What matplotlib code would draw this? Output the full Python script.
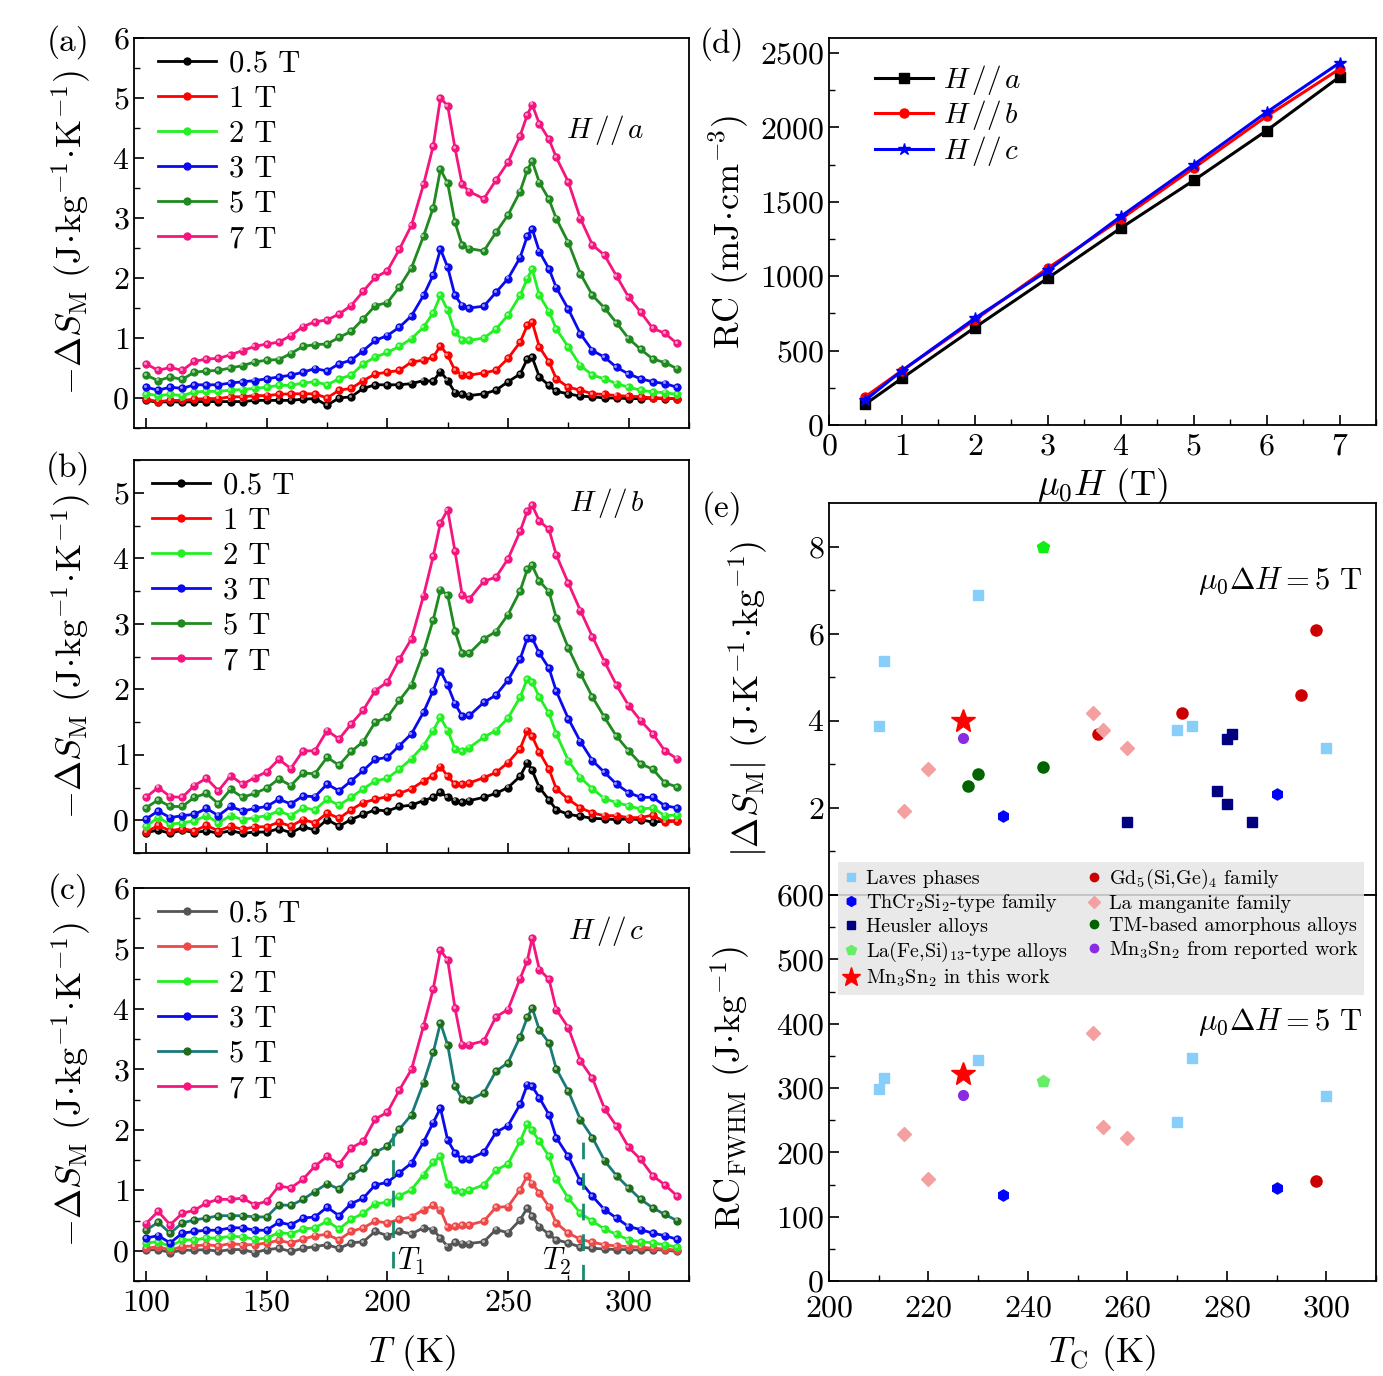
import matplotlib.pyplot as plt
import matplotlib.transforms as mtransforms
from matplotlib.ticker import MultipleLocator, FixedLocator
from matplotlib.lines import Line2D

plt.rcParams['font.family'] = ['cmr10', 'DejaVu Serif']
plt.rcParams['mathtext.fontset'] = 'cm'
plt.rcParams['axes.unicode_minus'] = False
plt.rcParams['axes.formatter.use_mathtext'] = True

# temperature grid (K) shared by panels (a)-(c)
temps = [100, 105, 110, 115, 120, 125, 130, 135, 140, 145, 150, 155, 160, 165, 170,
         175, 180, 185, 190, 195, 200, 205, 210, 215, 219, 222, 225, 228, 231, 234,
         240, 245, 250, 255, 258, 260, 263, 267, 270, 275, 280, 285, 290, 295, 300,
         305, 310, 315, 320]

fields = ['0.5 T', '1 T', '2 T', '3 T', '5 T', '7 T']

# (a) H // a
a_05 = [-0.04, -0.07, -0.06, -0.07, -0.06, -0.06, -0.06, -0.06, -0.06, -0.04, -0.04, -0.04, -0.04, -0.02, -0.01,
        -0.12, 0.00, 0.02, 0.16, 0.22, 0.22, 0.22, 0.24, 0.29, 0.28, 0.44, 0.29, 0.09, 0.06, 0.04,
        0.07, 0.13, 0.27, 0.40, 0.65, 0.68, 0.35, 0.21, 0.11, 0.07, 0.03, 0.02, 0.00, 0.00, -0.01,
        -0.01, 0.00, -0.01, -0.01]
a_1 = [-0.02, -0.06, -0.04, -0.04, -0.02, -0.01, -0.01, 0.02, 0.02, 0.04, 0.04, 0.06, 0.07, 0.07, 0.07,
       0.00, 0.13, 0.16, 0.29, 0.40, 0.43, 0.46, 0.60, 0.63, 0.68, 0.87, 0.71, 0.46, 0.39, 0.38,
       0.42, 0.46, 0.66, 0.93, 1.21, 1.27, 0.85, 0.60, 0.32, 0.18, 0.13, 0.07, 0.06, 0.04, 0.03,
       0.02, 0.00, 0.00, -0.01]
a_2 = [0.07, 0.04, 0.06, 0.04, 0.10, 0.11, 0.11, 0.13, 0.14, 0.16, 0.18, 0.21, 0.21, 0.25, 0.27,
       0.22, 0.32, 0.38, 0.57, 0.68, 0.76, 0.86, 0.99, 1.18, 1.42, 1.71, 1.46, 1.10, 0.97, 0.96,
       1.00, 1.15, 1.38, 1.71, 1.99, 2.15, 1.71, 1.44, 1.15, 0.85, 0.54, 0.38, 0.32, 0.24, 0.18,
       0.13, 0.10, 0.09, 0.06]
a_3 = [0.18, 0.13, 0.18, 0.16, 0.22, 0.22, 0.22, 0.25, 0.27, 0.29, 0.32, 0.35, 0.38, 0.43, 0.49,
       0.45, 0.57, 0.63, 0.79, 0.96, 1.04, 1.18, 1.37, 1.71, 2.05, 2.48, 2.18, 1.71, 1.54, 1.50,
       1.53, 1.76, 1.99, 2.34, 2.70, 2.82, 2.44, 2.15, 1.84, 1.48, 1.07, 0.79, 0.68, 0.51, 0.40,
       0.32, 0.27, 0.24, 0.18]
a_5 = [0.38, 0.29, 0.35, 0.31, 0.43, 0.45, 0.46, 0.50, 0.54, 0.60, 0.63, 0.64, 0.74, 0.86, 0.89,
       0.90, 1.01, 1.11, 1.32, 1.54, 1.59, 1.85, 2.17, 2.70, 3.17, 3.81, 3.58, 2.93, 2.55, 2.49,
       2.45, 2.76, 3.05, 3.44, 3.80, 3.95, 3.59, 3.31, 2.99, 2.59, 2.07, 1.71, 1.50, 1.25, 0.99,
       0.81, 0.65, 0.59, 0.49]
a_7 = [0.57, 0.46, 0.51, 0.46, 0.61, 0.65, 0.66, 0.72, 0.79, 0.86, 0.90, 0.93, 1.04, 1.19, 1.27,
       1.30, 1.40, 1.54, 1.78, 2.01, 2.12, 2.48, 2.88, 3.56, 4.20, 5.00, 4.87, 4.17, 3.56, 3.44,
       3.32, 3.63, 3.93, 4.37, 4.72, 4.89, 4.57, 4.31, 4.01, 3.60, 2.99, 2.55, 2.38, 2.03, 1.68,
       1.43, 1.16, 1.08, 0.91]

# (b) H // b
b_05 = [-0.19, -0.15, -0.20, -0.15, -0.19, -0.16, -0.20, -0.16, -0.20, -0.18, -0.18, -0.13, -0.19, -0.10, -0.15,
        0.01, -0.09, 0.01, 0.09, 0.16, 0.14, 0.21, 0.23, 0.30, 0.35, 0.43, 0.35, 0.30, 0.28, 0.30,
        0.35, 0.41, 0.50, 0.67, 0.88, 0.76, 0.50, 0.31, 0.16, 0.09, 0.06, 0.03, 0.02, 0.01, 0.02,
        0.01, -0.03, -0.01, -0.01]
b_1 = [-0.18, -0.08, -0.16, -0.13, -0.16, -0.08, -0.16, -0.09, -0.14, -0.10, -0.10, -0.03, -0.09, 0.01, -0.04,
       0.11, 0.03, 0.16, 0.27, 0.32, 0.36, 0.41, 0.48, 0.60, 0.68, 0.82, 0.67, 0.55, 0.55, 0.57,
       0.65, 0.73, 0.88, 1.09, 1.37, 1.28, 1.04, 0.78, 0.48, 0.32, 0.19, 0.11, 0.07, 0.07, 0.04,
       0.04, 0.08, -0.03, -0.01]
b_2 = [-0.09, 0.04, -0.06, -0.04, -0.01, 0.07, -0.04, 0.07, 0.01, 0.04, 0.07, 0.14, 0.07, 0.19, 0.16,
       0.32, 0.23, 0.35, 0.48, 0.60, 0.64, 0.78, 0.94, 1.14, 1.37, 1.57, 1.37, 1.09, 1.06, 1.11,
       1.27, 1.37, 1.56, 1.88, 2.16, 2.11, 1.88, 1.63, 1.32, 0.91, 0.65, 0.48, 0.33, 0.27, 0.22,
       0.17, 0.19, 0.07, 0.08]
b_3 = [0.02, 0.14, 0.04, 0.07, 0.09, 0.18, 0.07, 0.21, 0.14, 0.18, 0.21, 0.32, 0.25, 0.37, 0.36,
       0.55, 0.45, 0.60, 0.76, 0.93, 0.96, 1.14, 1.32, 1.65, 1.98, 2.28, 2.06, 1.78, 1.59, 1.60,
       1.80, 1.91, 2.14, 2.46, 2.78, 2.78, 2.55, 2.32, 1.97, 1.55, 1.20, 0.91, 0.73, 0.55, 0.42,
       0.35, 0.35, 0.22, 0.19]
b_5 = [0.19, 0.31, 0.21, 0.21, 0.35, 0.41, 0.25, 0.47, 0.35, 0.41, 0.49, 0.63, 0.53, 0.72, 0.71,
       0.96, 0.84, 1.05, 1.20, 1.50, 1.57, 1.83, 2.07, 2.57, 3.06, 3.52, 3.44, 2.89, 2.55, 2.55,
       2.77, 2.88, 3.14, 3.50, 3.83, 3.89, 3.65, 3.49, 3.09, 2.63, 2.24, 1.88, 1.57, 1.28, 1.06,
       0.86, 0.78, 0.57, 0.51]
b_7 = [0.35, 0.50, 0.36, 0.35, 0.53, 0.64, 0.45, 0.68, 0.55, 0.65, 0.74, 0.93, 0.79, 1.06, 1.06,
       1.37, 1.24, 1.47, 1.68, 1.98, 2.11, 2.46, 2.77, 3.43, 4.03, 4.54, 4.74, 4.11, 3.44, 3.38,
       3.65, 3.71, 3.99, 4.41, 4.72, 4.81, 4.57, 4.44, 4.05, 3.62, 3.20, 2.80, 2.42, 2.06, 1.75,
       1.52, 1.32, 1.06, 0.94]

# (c) H // c
c_05 = [0.01, 0.02, -0.03, 0.01, 0.01, 0.02, -0.01, 0.02, 0.02, -0.03, 0.02, 0.04, -0.01, 0.04, 0.07,
        0.10, 0.04, 0.13, 0.15, 0.32, 0.25, 0.32, 0.28, 0.38, 0.35, 0.21, 0.07, 0.14, 0.12, 0.12,
        0.15, 0.35, 0.30, 0.51, 0.71, 0.58, 0.40, 0.27, 0.18, 0.13, 0.06, 0.04, 0.03, 0.02, 0.02,
        0.01, 0.02, 0.01, -0.01]
c_1 = [0.04, 0.07, 0.01, 0.07, 0.08, 0.10, 0.08, 0.12, 0.10, 0.10, 0.13, 0.17, 0.13, 0.19, 0.25,
       0.27, 0.18, 0.32, 0.38, 0.49, 0.46, 0.52, 0.56, 0.68, 0.75, 0.68, 0.39, 0.41, 0.43, 0.43,
       0.49, 0.72, 0.73, 1.01, 1.24, 1.11, 0.96, 0.73, 0.46, 0.29, 0.19, 0.14, 0.10, 0.08, 0.07,
       0.06, 0.04, 0.03, 0.01]
c_2 = [0.13, 0.15, 0.07, 0.18, 0.18, 0.21, 0.21, 0.24, 0.23, 0.19, 0.21, 0.30, 0.28, 0.36, 0.38,
       0.49, 0.36, 0.52, 0.62, 0.78, 0.80, 0.91, 1.01, 1.26, 1.46, 1.57, 1.11, 1.00, 0.97, 1.00,
       1.09, 1.33, 1.44, 1.81, 2.09, 1.99, 1.81, 1.56, 1.19, 0.87, 0.62, 0.49, 0.36, 0.27, 0.18,
       0.15, 0.13, 0.10, 0.06]
c_3 = [0.21, 0.25, 0.13, 0.29, 0.32, 0.34, 0.34, 0.38, 0.38, 0.34, 0.34, 0.47, 0.43, 0.54, 0.56,
       0.72, 0.58, 0.78, 0.87, 1.09, 1.13, 1.29, 1.45, 1.80, 2.12, 2.36, 1.83, 1.62, 1.51, 1.52,
       1.63, 1.96, 2.07, 2.42, 2.75, 2.72, 2.53, 2.25, 1.87, 1.56, 1.15, 0.90, 0.68, 0.54, 0.40,
       0.35, 0.29, 0.25, 0.19]
c_5 = [0.34, 0.47, 0.29, 0.46, 0.51, 0.54, 0.58, 0.58, 0.58, 0.56, 0.56, 0.76, 0.75, 0.85, 0.98,
       1.11, 1.02, 1.24, 1.37, 1.63, 1.73, 2.01, 2.25, 2.78, 3.28, 3.77, 3.40, 2.73, 2.51, 2.49,
       2.61, 2.97, 3.11, 3.54, 3.86, 4.02, 3.65, 3.44, 3.01, 2.64, 2.17, 1.87, 1.49, 1.24, 1.04,
       0.85, 0.71, 0.60, 0.50]
c_7 = [0.45, 0.65, 0.43, 0.62, 0.67, 0.79, 0.85, 0.85, 0.87, 0.76, 0.82, 1.07, 1.04, 1.18, 1.40,
       1.56, 1.43, 1.70, 1.81, 2.18, 2.29, 2.66, 3.00, 3.72, 4.33, 4.97, 4.81, 4.02, 3.41, 3.41,
       3.47, 3.87, 3.99, 4.50, 4.80, 5.17, 4.65, 4.49, 3.99, 3.69, 3.14, 2.85, 2.35, 2.06, 1.71,
       1.51, 1.24, 1.09, 0.91]

# (d) refrigerant capacity vs field
rc_field = [0.5, 1, 2, 3, 4, 5, 6, 7]
rc_a = [141, 314, 655, 987, 1323, 1643, 1978, 2339]
rc_b = [191, 365, 706, 1054, 1383, 1726, 2074, 2392]
rc_c = [168, 365, 717, 1038, 1401, 1749, 2101, 2433]

# (e) comparison with other materials: (Tc, |dS|) and (Tc, RC_FWHM)
laves_tc = [211, 210, 230, 270, 273, 300]
laves_ds = [5.38, 3.88, 6.88, 3.78, 3.88, 3.38]
laves_tc_rc = [210, 211, 230, 270, 273, 300]
laves_rc = [298, 316, 344, 247, 346, 288]
gd_tc = [298, 295, 271, 254]
gd_ds = [6.09, 4.59, 4.19, 3.69]
gd_tc_rc = [298]
gd_rc = [156]
thcr_tc = [235, 290]
thcr_ds = [1.82, 2.33]
thcr_rc = [133, 145]
lamn_tc = [215, 220, 253, 255, 260]
lamn_ds = [1.94, 2.90, 4.18, 3.78, 3.38]
lamn_rc = [229, 158, 385, 239, 223]
heus_tc = [260, 278, 280, 280, 281, 285]
heus_ds = [1.68, 2.38, 2.08, 3.59, 3.69, 1.68]
tm_tc = [228, 230, 243]
tm_ds = [2.50, 2.78, 2.95]
lafesi_tc = [243]
lafesi_ds = [8.0]
lafesi_rc = [311]
mn_rep_tc = [227]
mn_rep_ds = [3.6]
mn_rep_rc = [289]
mn_tc = [227]
mn_ds = [4.0]
mn_rc = [321]

W, H = 1383, 1376
fig = plt.figure(figsize=(W / 100, H / 100), dpi=100)

TICK = 23
LAB = 26


def add_ax(l, t, r, b):
    return fig.add_axes([l / W, 1 - b / H, (r - l) / W, (b - t) / H])


def style(ax):
    for s in ax.spines.values():
        s.set_linewidth(1.3)
    ax.tick_params(which='both', direction='in', top=False, right=False, labelsize=TICK)
    ax.tick_params(which='major', length=7, width=1.2)
    ax.tick_params(which='minor', length=4, width=1.0)


dot = r'$\!\cdot\!$'
ylab = r'$-\Delta S_{\rm M}$ (J' + dot + r'kg$^{-1}$' + dot + r'K$^{-1}$)'
cols_ab = ['#000000', '#ff0000', '#22f022', '#0a0aee', '#1f8a1f', '#f5157f']
cols_c = ['#555555', '#ee4848', '#22f022', '#0a0aee', '#1a7a7a', '#f5157f']
mk_c = ['#555555', '#ee4848', '#22f022', '#0a0aee', '#1e6e1e', '#f5157f']

panels = [
    ((134, 38, 689, 428), [a_05, a_1, a_2, a_3, a_5, a_7], cols_ab, cols_ab, (-0.5, 6),
     r'$H\,//\,a$', 0.765, 0.022),
    ((134, 460, 689, 853), [b_05, b_1, b_2, b_3, b_5, b_7], cols_ab, cols_ab, (-0.5, 5.5),
     r'$H\,//\,b$', 0.89, 0.011),
    ((134, 888, 689, 1281), [c_05, c_1, c_2, c_3, c_5, c_7], cols_c, mk_c, (-0.5, 6),
     r'$H\,//\,c$', 0.89, 0.022),
]
axes_left = []
for box, series, lc, mc, ylim, htxt, hy, lx in panels:
    ax = add_ax(*box)
    style(ax)
    glint = mtransforms.offset_copy(ax.transData, fig=fig, x=-1.2, y=1.2, units='dots')
    for y, lab, c, m in zip(series, fields, lc, mc):
        ax.plot(temps, y, '-o', color=c, lw=2.0, ms=6, mfc=m, mec=m, mew=0, label=lab)
        # small highlight to mimic the shaded sphere markers
        ax.plot(temps, y, 'o', ls='none', color='white', alpha=0.55, ms=2.2, mew=0,
                transform=glint)
    ax.set_xlim(95, 325)
    ax.set_ylim(*ylim)
    ax.xaxis.set_major_locator(MultipleLocator(50))
    ax.xaxis.set_minor_locator(MultipleLocator(25))
    ax.yaxis.set_major_locator(MultipleLocator(1))
    ax.yaxis.set_minor_locator(MultipleLocator(0.5))
    ax.set_ylabel(ylab, fontsize=LAB, labelpad=13)
    ax.legend(loc='upper left', bbox_to_anchor=(lx, 1.0), fontsize=22, frameon=False,
              handlelength=1.9, labelspacing=0.25, borderaxespad=0, handletextpad=0.4)
    ax.text(0.92, hy, htxt, transform=ax.transAxes, fontsize=21, ha='right', va='center')
    axes_left.append(ax)

axes_left[0].tick_params(labelbottom=False)
axes_left[1].tick_params(labelbottom=False)
axc = axes_left[2]
axc.tick_params(axis='x', pad=6)
axc.set_xlabel(r'$T$ (K)', fontsize=LAB, labelpad=12)
tcol = '#1a8a70'
axc.plot([202.5, 202.5], [-0.28, 1.95], color=tcol, lw=2, dashes=(6, 5))
axc.plot([281, 281], [-0.5, 1.95], color=tcol, lw=2, dashes=(6, 5))
axc.text(204, -0.18, r'$T_1$', fontsize=22, va='center')
axc.text(264, -0.18, r'$T_2$', fontsize=22, va='center')

# (d)
axd = add_ax(829, 38, 1376, 425)
style(axd)
axd.plot(rc_field, rc_a, '-s', color='#000000', lw=2.2, ms=6.5, label=r'$H\,//\,a$')
axd.plot(rc_field, rc_b, '-o', color='#ff0000', lw=2.2, ms=6.5, label=r'$H\,//\,b$')
axd.plot(rc_field, rc_c, '-*', color='#0000ff', lw=2.2, ms=9, label=r'$H\,//\,c$')
axd.set_xlim(0, 7.5)
axd.set_ylim(0, 2600)
axd.xaxis.set_major_locator(MultipleLocator(1))
axd.xaxis.set_minor_locator(MultipleLocator(0.5))
axd.yaxis.set_major_locator(MultipleLocator(500))
axd.yaxis.set_minor_locator(MultipleLocator(250))
axd.tick_params(axis='x', pad=6)
axd.set_xlabel(r'$\mu_0H$ (T)', fontsize=LAB, labelpad=4)
axd.set_ylabel(r'RC (mJ' + dot + r'cm$^{-3}$)', fontsize=LAB, labelpad=6)
axd.legend(loc='upper left', bbox_to_anchor=(0.062, 0.966), fontsize=21, frameon=False,
           handlelength=2.0, labelspacing=0.05, borderaxespad=0, handletextpad=0.35)

# (e) upper
sq = dict(ls='none')
axe1 = add_ax(829, 503, 1376, 895)
style(axe1)
axe1.plot(laves_tc, laves_ds, 's', color='#87cefa', ms=7, **sq)
axe1.plot(gd_tc, gd_ds, 'o', color='#cc0000', ms=8, **sq)
axe1.plot(thcr_tc, thcr_ds, 'h', color='#0000ff', ms=8, **sq)
axe1.plot(lamn_tc, lamn_ds, 'D', color='#f4a0a0', ms=7, **sq)
axe1.plot(heus_tc, heus_ds, 's', color='#000080', ms=7, **sq)
axe1.plot(tm_tc, tm_ds, 'o', color='#006400', ms=8, **sq)
axe1.plot(lafesi_tc, lafesi_ds, 'p', color='#11ee11', ms=9, **sq)
axe1.plot(mn_rep_tc, mn_rep_ds, 'o', color='#8a2be2', ms=7, **sq)
axe1.plot(mn_tc, mn_ds, '*', color='#ff0000', ms=18, **sq)
axe1.set_xlim(200, 310)
axe1.set_ylim(0, 9)
axe1.xaxis.set_major_locator(MultipleLocator(20))
axe1.xaxis.set_minor_locator(MultipleLocator(10))
axe1.yaxis.set_major_locator(FixedLocator([2, 4, 6, 8]))
axe1.yaxis.set_minor_locator(FixedLocator([1, 3, 5, 7]))
axe1.tick_params(labelbottom=False, bottom=False, which='both')
axe1.set_ylabel(r'$|\Delta S_{\rm M}|$ (J' + dot + r'K$^{-1}$' + dot + r'kg$^{-1}$)',
                fontsize=LAB, labelpad=26)
axe1.text(0.975, 0.80, r'$\mu_0\Delta H = 5$ T', transform=axe1.transAxes,
          fontsize=22, ha='right', va='center')

# (e) lower
axe2 = add_ax(829, 895, 1376, 1281)
style(axe2)
axe2.plot(laves_tc_rc, laves_rc, 's', color='#87cefa', ms=7, **sq)
axe2.plot(gd_tc_rc, gd_rc, 'o', color='#cc0000', ms=8, **sq)
axe2.plot(thcr_tc, thcr_rc, 'h', color='#0000ff', ms=8, **sq)
axe2.plot(lamn_tc, lamn_rc, 'D', color='#f4a0a0', ms=7, **sq)
axe2.plot(lafesi_tc, lafesi_rc, 'p', color='#66ee66', ms=9, **sq)
axe2.plot(mn_rep_tc, mn_rep_rc, 'o', color='#8a2be2', ms=7, **sq)
axe2.plot(mn_tc, mn_rc, '*', color='#ff0000', ms=18, **sq)
axe2.set_xlim(200, 310)
axe2.set_ylim(0, 600)
axe2.xaxis.set_major_locator(MultipleLocator(20))
axe2.xaxis.set_minor_locator(MultipleLocator(10))
axe2.yaxis.set_major_locator(MultipleLocator(100))
axe2.yaxis.set_minor_locator(MultipleLocator(50))
axe2.tick_params(axis='x', pad=10)
axe2.set_xlabel(r'$T_{\rm C}$ (K)', fontsize=LAB, labelpad=8)
axe2.set_ylabel(r'RC$_{\rm FWHM}$ (J' + dot + r'kg$^{-1}$)', fontsize=LAB, labelpad=16)
axe2.text(0.975, 0.67, r'$\mu_0\Delta H = 5$ T', transform=axe2.transAxes,
          fontsize=22, ha='right', va='center')

handles = [
    Line2D([], [], ls='none', marker='s', color='#87cefa', ms=6),
    Line2D([], [], ls='none', marker='h', color='#0000ff', ms=7),
    Line2D([], [], ls='none', marker='s', color='#000080', ms=6),
    Line2D([], [], ls='none', marker='p', color='#66ee66', ms=7),
    Line2D([], [], ls='none', marker='*', color='#ff0000', ms=14),
    Line2D([], [], ls='none', marker='o', color='#cc0000', ms=6),
    Line2D([], [], ls='none', marker='D', color='#f4a0a0', ms=6),
    Line2D([], [], ls='none', marker='o', color='#006400', ms=6),
    Line2D([], [], ls='none', marker='o', color='#8a2be2', ms=6),
]
labels = ['Laves phases', r'ThCr$_2$Si$_2$-type family', 'Heusler alloys',
          r'La(Fe,Si)$_{13}$-type alloys', r'Mn$_3$Sn$_2$ in this work',
          r'Gd$_5$(Si,Ge)$_4$ family', 'La manganite family', 'TM-based amorphous alloys',
          r'Mn$_3$Sn$_2$ from reported work']
leg = fig.legend(handles, labels, loc='upper left', ncol=2, mode='expand',
                 bbox_to_anchor=(838 / W, 1 - 863 / H, (1364 - 838) / W, 0.001),
                 fontsize=14.5, frameon=True, fancybox=False, facecolor='#e6e6e6',
                 edgecolor='none', framealpha=0.85, handlelength=0.8, handletextpad=0.35,
                 labelspacing=0.2, borderpad=0.25, columnspacing=0.3, borderaxespad=0)

# panel labels
for lab, x, y in [('(a)', 68, 42), ('(b)', 68, 468), ('(c)', 68, 890),
                  ('(d)', 722, 44), ('(e)', 722, 508)]:
    fig.text(x / W, 1 - y / H, lab, fontsize=24, ha='center', va='center')

fig.savefig('out.png', dpi=100)
